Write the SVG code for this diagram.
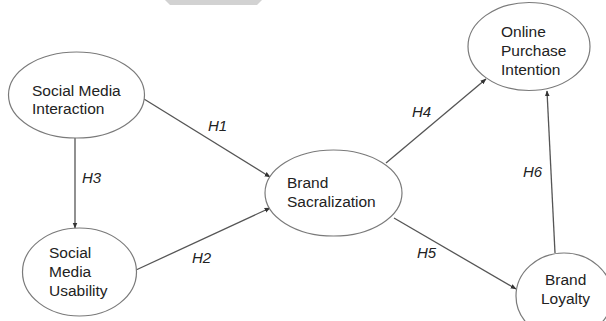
<svg xmlns="http://www.w3.org/2000/svg" width="606" height="321" viewBox="0 0 606 321">
<defs>
<style>
.node ellipse{fill:#fff;stroke:#7a7a7a;stroke-width:1.2}
.node text{font-family:"Liberation Sans",Arial,sans-serif;font-size:15.5px;fill:#222}
.edge line{stroke:#555;stroke-width:1.3;marker-end:url(#ah)}
.lbl{font-family:"Liberation Sans",Arial,sans-serif;font-size:15px;font-style:italic;fill:#222}
</style>
<marker id="ah" viewBox="0 0 10 10" refX="9" refY="5" markerWidth="6" markerHeight="6" orient="auto" markerUnits="userSpaceOnUse">
<path d="M0,1 L10,5 L0,9 Z" fill="#333"/>
</marker>
</defs>
<rect width="606" height="321" fill="#fff"/>
<polygon points="165,0 262,0 257,5 170,5" fill="#d2d2d2"/>
<g id="edges" class="edge">
<line x1="144" y1="99" x2="270" y2="177"/>
<line x1="136" y1="270" x2="270" y2="208"/>
<line x1="75" y1="138" x2="75" y2="228"/>
<line x1="386" y1="163" x2="486" y2="79"/>
<line x1="394" y1="218" x2="516" y2="289"/>
<line x1="555" y1="253" x2="547" y2="91"/>
</g>
<g id="labels">
<text class="lbl" x="208" y="131">H1</text>
<text class="lbl" x="192" y="263">H2</text>
<text class="lbl" x="82" y="183">H3</text>
<text class="lbl" x="412" y="117">H4</text>
<text class="lbl" x="417" y="258">H5</text>
<text class="lbl" x="523" y="177">H6</text>
</g>
<g id="smi" class="node">
<ellipse cx="76.5" cy="95" rx="68" ry="43"/>
<text x="32" y="96">Social Media</text>
<text x="32" y="114">Interaction</text>
</g>
<g id="smu" class="node">
<ellipse cx="79.5" cy="272" rx="57" ry="44"/>
<text x="49" y="258">Social</text>
<text x="49" y="277">Media</text>
<text x="49" y="296">Usability</text>
</g>
<g id="bs" class="node">
<ellipse cx="333.5" cy="193" rx="68.5" ry="43"/>
<text x="287" y="188">Brand</text>
<text x="287" y="207">Sacralization</text>
</g>
<g id="opi" class="node">
<ellipse cx="529" cy="46.5" rx="61" ry="44"/>
<text x="501" y="37">Online</text>
<text x="501" y="56">Purchase</text>
<text x="501" y="75">Intention</text>
</g>
<g id="bl" class="node">
<ellipse cx="564" cy="296" rx="48" ry="43"/>
<text x="545" y="285">Brand</text>
<text x="541" y="304">Loyalty</text>
</g>
</svg>
